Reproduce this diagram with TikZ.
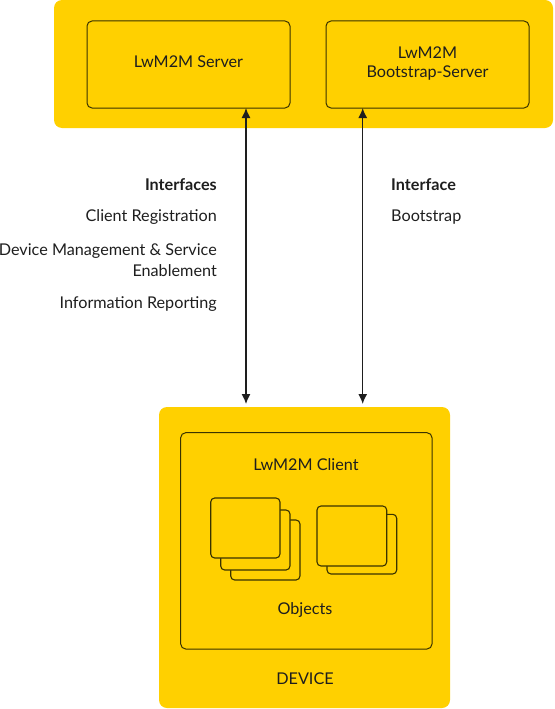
\documentclass[tikz,border=0pt]{standalone}
\usepackage{fontspec}
\setmainfont{Lato}
\usetikzlibrary{arrows.meta}
\definecolor{ylw}{HTML}{FFD000}
\definecolor{txt}{HTML}{1E1E1E}
\definecolor{edge}{HTML}{3A3300}
\tikzset{
  outerbox/.style={fill=ylw, draw=none, rounded corners=8pt},
  innerbox/.style={fill=ylw, draw=edge, line width=1pt, rounded corners=5pt},
  objbox/.style={fill=ylw, draw=edge, line width=1.1pt, rounded corners=4pt},
  lbl/.style={text=txt, font=\fontsize{16.2}{18}\selectfont, inner sep=0pt},
  conn/.style={draw=txt, line width=1.3pt, {Latex[length=10pt,width=9pt]}-{Latex[length=10pt,width=9pt]}}
}
\begin{document}
\begin{tikzpicture}[x=1pt,y=-1pt]
\useasboundingbox (0,0) rectangle (554,709);
% top
\path[outerbox] (54,0) rectangle (553,128);
\draw[innerbox] (87,21) rectangle (290,108);
\draw[innerbox] (326,21) rectangle (529,108);
\node[lbl] (srv) at (188.5,62) {LwM2M Server};
\node[lbl, align=center] (bs) at (427.5,64) {LwM2M\\[1pt]Bootstrap-Server};
\coordinate (srvb) at (246,108);
\coordinate (bsb) at (362.7,108);
% device
\path[outerbox] (159,407) rectangle (450,708);
\draw[innerbox] (180.7,432.7) rectangle (432,649);
\node[lbl] (client) at (306,465) {LwM2M Client};
\node[lbl] (objs) at (305,610) {Objects};
\node[lbl] (dev) at (305,679) {DEVICE};
\coordinate (devl) at (246,404);
\coordinate (devr) at (362.7,404);
% object stacks
\draw[objbox] (230.7,520) rectangle (300,580);
\draw[objbox] (220.7,510) rectangle (290,570);
\draw[objbox] (210.7,498) rectangle (280,558);
\draw[objbox] (327,514.3) rectangle (396.7,574);
\draw[objbox] (317,506) rectangle (386.7,566);
% connectors
\draw[conn] (srvb) -- (devl);
\draw[conn] (bsb) -- (devr);
% labels
\node[lbl, anchor=east, font=\fontsize{16.2}{18}\selectfont\bfseries] (ifl) at (217,185) {Interfaces};
\node[lbl, anchor=east] (cr) at (217,217.5) {Client Registration};
\node[lbl, anchor=east, align=right] (dm) at (217,260.5) {Device Management \& Service\\[3pt]Enablement};
\node[lbl, anchor=east] (ir) at (217,304.5) {Information Reporting};
\node[lbl, anchor=west, font=\fontsize{16.2}{18}\selectfont\bfseries] (ifr) at (391,185) {Interface};
\node[lbl, anchor=west] (bst) at (391,217.5) {Bootstrap};
\end{tikzpicture}
\end{document}
